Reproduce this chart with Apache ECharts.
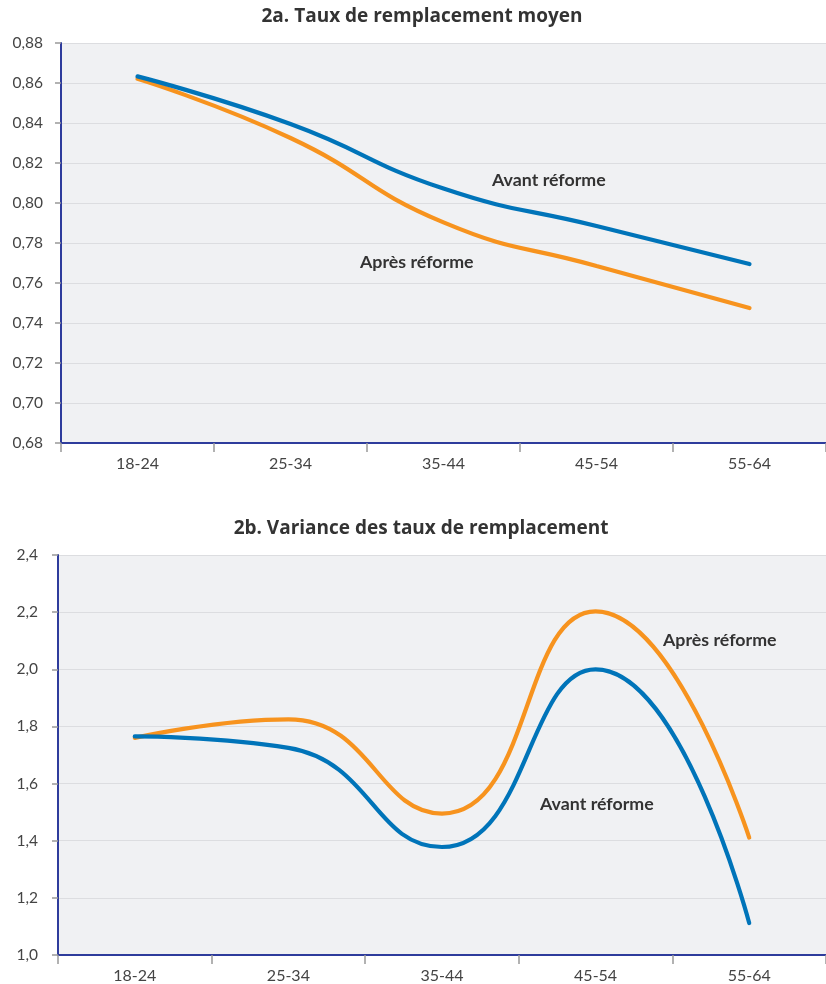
<!DOCTYPE html>
<html><head><meta charset="utf-8">
<script src="https://cdn.jsdelivr.net/npm/echarts@6/dist/echarts.min.js"></script>
<style>html,body{margin:0;padding:0;background:#fff}#c{width:826px;height:984px}</style>
</head><body><div id="c"></div>
<script>
const categories = ['18-24', '25-34', '35-44', '45-54', '55-64'];
// 2a. Taux de remplacement moyen
const moyenAvant = [0.8633, 0.8395, 0.8072, 0.7885, 0.7695];
const moyenApres = [0.8621, 0.8325, 0.7903, 0.7685, 0.7475];
// 2b. Variance des taux de remplacement
const varAvant = [1.765, 1.725, 1.378, 2.0, 1.112];
const varApres = [1.76, 1.825, 1.495, 2.203, 1.411];

const titleA = '2a. Taux de remplacement moyen';
const titleB = '2b. Variance des taux de remplacement';
const labelAvant = 'Avant réforme';
const labelApres = 'Après réforme';

const FONT = 'Lato, "Open Sans", sans-serif';
const TFONT = '"Open Sans", Lato, sans-serif';
const BLUE = '#0074b9';
const ORANGE = '#f7931e';
const AXIS = '#2e3c9c';

function xAxis(gi) {
  return {
    type: 'category', gridIndex: gi, data: categories, boundaryGap: true,
    axisLine: { lineStyle: { color: AXIS, width: 2 } },
    axisTick: { show: true, interval: 0, length: 9, lineStyle: { color: '#999', width: 1.5 } },
    axisLabel: { color: '#444', fontFamily: FONT, fontSize: 16, margin: 13 }
  };
}
function yAxis(gi, min, max, interval, dec, margin) {
  return {
    type: 'value', gridIndex: gi, min: min, max: max, interval: interval,
    axisLine: { show: true, lineStyle: { color: AXIS, width: 2 } },
    axisTick: { show: true, length: 6, lineStyle: { color: '#999', width: 1.5 } },
    splitLine: { show: true, lineStyle: { color: '#dcdde0', width: 1.2 } },
    axisLabel: { color: '#444', fontFamily: FONT, fontSize: 15.5, margin: margin,
      formatter: v => v.toFixed(dec).replace('.', ',') }
  };
}
function line(name, data, color, gi) {
  return { type: 'line', name: name, data: data, xAxisIndex: gi, yAxisIndex: gi,
    smooth: 0.5, symbol: 'none', lineStyle: { color: color, width: 4.2, cap: 'round' },
    itemStyle: { color: color }, z: color === BLUE ? 3 : 2 };
}
const txt = (t, x, y) => ({ type: 'text', left: x, top: y,
  style: { text: t, fill: '#333', font: 'bold 17.8px ' + FONT } });

const chart = echarts.init(document.getElementById('c'), null, { renderer: 'canvas' });
chart.setOption({
  animation: false,
  backgroundColor: '#fff',
  title: [
    { text: titleA, left: 417, top: 2, textAlign: 'center',
      textStyle: { fontFamily: TFONT, fontSize: 19, fontWeight: 'bold', color: '#333' } },
    { text: titleB, left: 416, top: 514, textAlign: 'center',
      textStyle: { fontFamily: TFONT, fontSize: 19, fontWeight: 'bold', color: '#333' } }
  ],
  grid: [
    { left: 61, top: 43, width: 765, height: 400, show: true, backgroundColor: '#f0f1f3', borderWidth: 0 },
    { left: 58, top: 555, width: 768, height: 400, show: true, backgroundColor: '#f0f1f3', borderWidth: 0 }
  ],
  xAxis: [xAxis(0), xAxis(1)],
  yAxis: [yAxis(0, 0.68, 0.88, 0.02, 2, 18), yAxis(1, 1.0, 2.4, 0.2, 1, 20)],
  series: [
    line(labelApres, moyenApres, ORANGE, 0),
    line(labelAvant, moyenAvant, BLUE, 0),
    line(labelApres, varApres, ORANGE, 1),
    line(labelAvant, varAvant, BLUE, 1)
  ],
  graphic: [
    txt(labelAvant, 492, 171),
    txt(labelApres, 360, 253),
    txt(labelApres, 663, 631),
    txt(labelAvant, 540, 795)
  ]
});
</script></body></html>
